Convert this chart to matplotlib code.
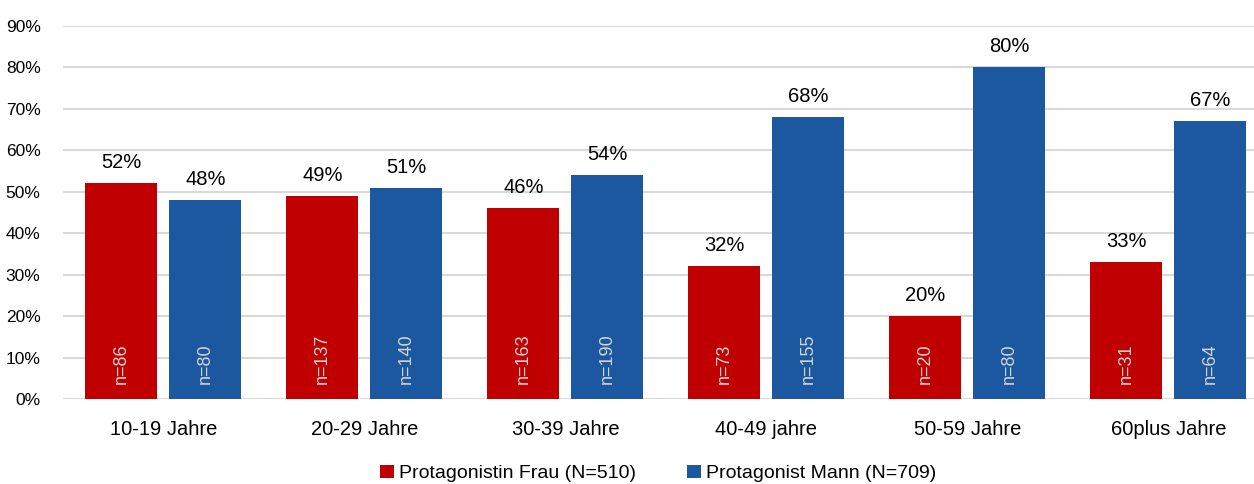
import matplotlib
matplotlib.use("Agg")
import matplotlib.pyplot as plt
import numpy as np
from matplotlib.ticker import PercentFormatter

categories = ["10-19 Jahre", "20-29 Jahre", "30-39 Jahre", "40-49 jahre", "50-59 Jahre", "60plus Jahre"]
frau = [0.52, 0.49, 0.46, 0.32, 0.20, 0.33]
mann = [0.48, 0.51, 0.54, 0.68, 0.80, 0.67]
n_frau = [86, 137, 163, 73, 20, 31]
n_mann = [80, 140, 190, 155, 80, 64]
label_frau = "Protagonistin Frau (N=510)"
label_mann = "Protagonist Mann (N=709)"

red = "#C00000"
blue = "#1C58A0"
plt.rcParams["font.family"] = ["Liberation Sans", "DejaVu Sans"]

fig = plt.figure(figsize=(12.54, 4.84), dpi=100)
ax = fig.add_axes([0.0501, 0.1756, 0.9617, 0.7707])

x = np.arange(len(categories))
w = 0.358
off = 0.209
b1 = ax.bar(x - off, frau, w, color=red, label=label_frau, zorder=3)
b2 = ax.bar(x + off, mann, w, color=blue, label=label_mann, zorder=3)

for bars, vals, ns in ((b1, frau, n_frau), (b2, mann, n_mann)):
    for b, v, n in zip(bars, vals, ns):
        cx = b.get_x() + b.get_width() / 2
        ax.annotate(f"{round(v * 100)}%", (cx, v), xytext=(0, 8), textcoords="offset points",
                    ha="center", va="bottom", fontsize=14.5, color="#000000")
        ax.annotate(f"n={n}", (cx, 0), xytext=(0, 11), textcoords="offset points",
                    ha="center", va="bottom", rotation=90, fontsize=13, color="#D4D4D4")

ax.set_xlim(-0.5, len(categories) - 0.5)
ax.set_ylim(0, 0.9)
ax.set_yticks(np.arange(0, 0.91, 0.1))
ax.yaxis.set_major_formatter(PercentFormatter(1.0, decimals=0))
ax.set_xticks(x)
ax.set_xticklabels(categories)
ax.tick_params(axis="both", length=0)
ax.tick_params(axis="y", labelsize=12.5, pad=16)
ax.tick_params(axis="x", labelsize=14.5, pad=15)
ax.grid(axis="y", color="#D9D9D9", linewidth=1.5, zorder=0)
for s in ax.spines.values():
    s.set_visible(False)

fig.legend(handles=[b1, b2], loc="center", bbox_to_anchor=(0.525, 0.022), ncol=2, frameon=False,
           fontsize=14, handlelength=0.7, handleheight=0.7, handletextpad=0.3, columnspacing=2.6)

fig.savefig("out.png", dpi=100)
